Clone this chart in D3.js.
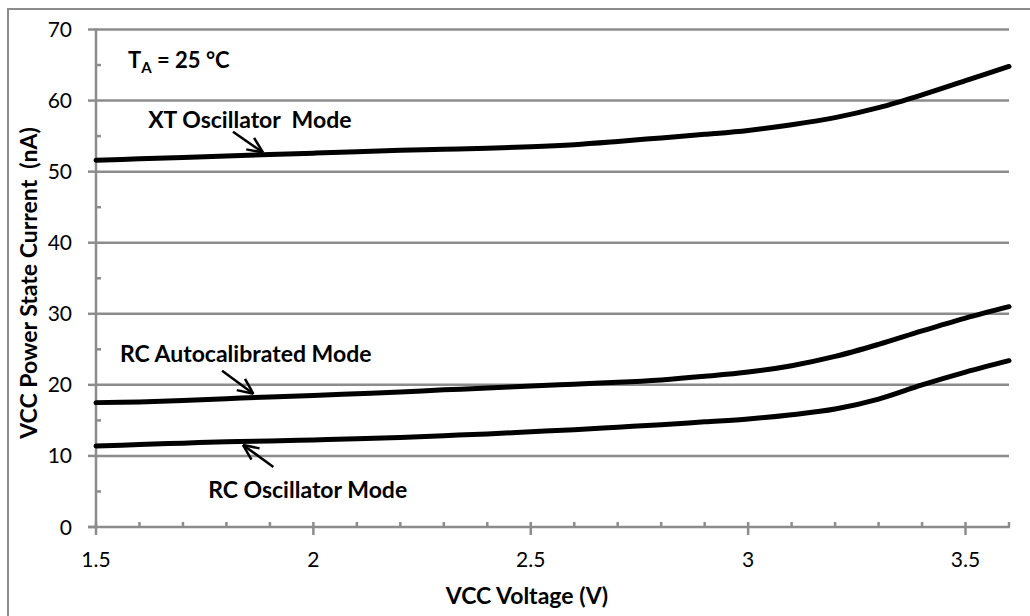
<!DOCTYPE html>
<html>
<head>
<meta charset="utf-8">
<script src="https://cdn.jsdelivr.net/npm/d3@7"></script>
<style>
  body { margin: 0; background: #fff; }
  text { font-family: Lato, "Noto Sans", sans-serif; fill: #000; }
</style>
</head>
<body>
<div id="chart"></div>
<script>
// Data (VCC voltage in V, current in nA)
const voltages = [1.5, 1.6, 1.7, 1.8, 1.9, 2.0, 2.1, 2.2, 2.3, 2.4, 2.5,
                  2.6, 2.7, 2.8, 2.9, 3.0, 3.1, 3.2, 3.3, 3.4, 3.5, 3.6];
const xtOscillator = [51.6, 51.8, 52.0, 52.2, 52.4, 52.6, 52.8, 53.0, 53.15, 53.3, 53.5,
                      53.8, 54.25, 54.75, 55.25, 55.8, 56.6, 57.6, 59.0, 60.8, 62.8, 64.8];
const rcAutocal = [17.5, 17.6, 17.8, 18.05, 18.3, 18.5, 18.75, 19.0, 19.3, 19.55, 19.85,
                   20.1, 20.35, 20.7, 21.2, 21.8, 22.7, 24.0, 25.7, 27.6, 29.4, 31.0];
const rcOscillator = [11.4, 11.6, 11.8, 12.0, 12.1, 12.25, 12.4, 12.6, 12.85, 13.1, 13.4,
                      13.7, 14.05, 14.4, 14.8, 15.2, 15.8, 16.6, 18.0, 20.0, 21.8, 23.4];
const xTicks = [1.5, 2, 2.5, 3, 3.5];
const yTicks = [0, 10, 20, 30, 40, 50, 60, 70];

// Labels with arrows: text anchor and arrow (from -> tip) in data units
const labels = [
  { text: "XT Oscillator  Mode", x: 1.62, y: 56.2, from: [1.815, 55.6], to: [1.884, 52.7] },
  { text: "RC Autocalibrated Mode", x: 1.555, y: 23.25, from: [1.79, 22.0], to: [1.862, 18.75] },
  { text: "RC Oscillator Mode", x: 1.758, y: 4.1, from: [1.908, 8.45], to: [1.838, 11.55] }
];

const width = 1030, height = 616;
const margin = { left: 96, right: 21, top: 29.5, bottom: 89 };

const svg = d3.select("#chart").append("svg")
  .attr("width", width)
  .attr("height", height);

// chart frame
svg.append("rect")
  .attr("x", 8).attr("y", 9)
  .attr("width", 1040).attr("height", 640)
  .attr("fill", "none")
  .attr("stroke", "#8c8c8c")
  .attr("stroke-width", 2);

const x = d3.scaleLinear().domain([1.5, 3.6]).range([margin.left, width - margin.right]);
const y = d3.scaleLinear().domain([0, 70]).range([height - margin.bottom, margin.top]);

const gridColor = "#8c8c8c";

// horizontal gridlines
svg.append("g")
  .selectAll("line")
  .data(yTicks.filter(d => d > 0))
  .join("line")
  .attr("x1", x(1.5)).attr("x2", x(3.6))
  .attr("y1", d => y(d)).attr("y2", d => y(d))
  .attr("stroke", gridColor)
  .attr("stroke-width", 2.5);

// y axis: major ticks outside, minor ticks inside
const yAxis = svg.append("g");
yAxis.append("line")
  .attr("x1", x(1.5)).attr("x2", x(1.5))
  .attr("y1", y(0) + 1).attr("y2", y(70) - 1)
  .attr("stroke", gridColor).attr("stroke-width", 2.5);
yAxis.selectAll(".major")
  .data(yTicks)
  .join("line")
  .attr("x1", x(1.5) - 8).attr("x2", x(1.5))
  .attr("y1", d => y(d)).attr("y2", d => y(d))
  .attr("stroke", gridColor).attr("stroke-width", 2.5);
yAxis.selectAll(".minor")
  .data(d3.range(5, 70, 10))
  .join("line")
  .attr("x1", x(1.5)).attr("x2", x(1.5) + 5)
  .attr("y1", d => y(d)).attr("y2", d => y(d))
  .attr("stroke", gridColor).attr("stroke-width", 2.5);
yAxis.selectAll("text")
  .data(yTicks)
  .join("text")
  .attr("x", x(1.5) - 24)
  .attr("y", d => y(d))
  .attr("dy", "0.36em")
  .attr("text-anchor", "end")
  .style("font-size", "21px")
  .text(d => d);

// x axis: major ticks cross, minor ticks inside
const xAxis = svg.append("g");
xAxis.append("line")
  .attr("x1", x(1.5) - 8).attr("x2", x(3.6) + 1)
  .attr("y1", y(0)).attr("y2", y(0))
  .attr("stroke", gridColor).attr("stroke-width", 2.5);
xAxis.selectAll(".major")
  .data(xTicks)
  .join("line")
  .attr("x1", d => x(d)).attr("x2", d => x(d))
  .attr("y1", y(0) - 5).attr("y2", y(0) + 8)
  .attr("stroke", gridColor).attr("stroke-width", 2.5);
xAxis.selectAll(".minor")
  .data(voltages.filter(v => !xTicks.some(t => Math.abs(t - v) < 1e-6)))
  .join("line")
  .attr("x1", d => x(d)).attr("x2", d => x(d))
  .attr("y1", y(0) - 5).attr("y2", y(0))
  .attr("stroke", gridColor).attr("stroke-width", 2.5);
xAxis.selectAll("text")
  .data(xTicks)
  .join("text")
  .attr("x", d => x(d))
  .attr("y", y(0) + 40)
  .attr("text-anchor", "middle")
  .style("font-size", "21px")
  .text(d => d);

// axis titles
svg.append("text")
  .attr("x", 527).attr("y", 604)
  .attr("text-anchor", "middle")
  .style("font-size", "23px")
  .style("font-weight", "bold")
  .text("VCC Voltage (V)");

svg.append("text")
  .attr("transform", "translate(37,283) rotate(-90)")
  .attr("text-anchor", "middle")
  .style("font-size", "23px")
  .style("font-weight", "bold")
  .style("white-space", "pre")
  .text("VCC Power State Current  (nA)");

// curves
const line = d3.line()
  .x(d => x(d[0]))
  .y(d => y(d[1]))
  .curve(d3.curveCatmullRom.alpha(0.5));

[xtOscillator, rcAutocal, rcOscillator].forEach(series => {
  svg.append("path")
    .datum(voltages.map((v, i) => [v, series[i]]))
    .attr("d", line)
    .attr("fill", "none")
    .attr("stroke", "#000")
    .attr("stroke-width", 5)
    .attr("stroke-linecap", "round");
});

// temperature note
const note = svg.append("text")
  .attr("x", 128).attr("y", 68)
  .style("font-size", "22px")
  .style("font-weight", "bold");
note.append("tspan").text("T");
note.append("tspan").attr("dy", 5).style("font-size", "15px").text("A");
note.append("tspan").attr("dy", -5).text(" = 25 °C");

// series labels with open arrows
labels.forEach(l => {
  svg.append("text")
    .attr("x", x(l.x)).attr("y", y(l.y))
    .style("font-size", "23px")
    .style("font-weight", "bold")
    .style("white-space", "pre")
    .text(l.text);

  const x1 = x(l.from[0]), y1 = y(l.from[1]);
  const x2 = x(l.to[0]), y2 = y(l.to[1]);
  const ang = Math.atan2(y2 - y1, x2 - x1);
  const head = 17, spread = 0.42;
  const g = svg.append("g")
    .attr("stroke", "#000")
    .attr("stroke-width", 2.5)
    .attr("fill", "none");
  g.append("line").attr("x1", x1).attr("y1", y1).attr("x2", x2).attr("y2", y2);
  [-spread, spread].forEach(s => {
    g.append("line")
      .attr("x1", x2).attr("y1", y2)
      .attr("x2", x2 - head * Math.cos(ang + s))
      .attr("y2", y2 - head * Math.sin(ang + s));
  });
});
</script>
</body>
</html>
